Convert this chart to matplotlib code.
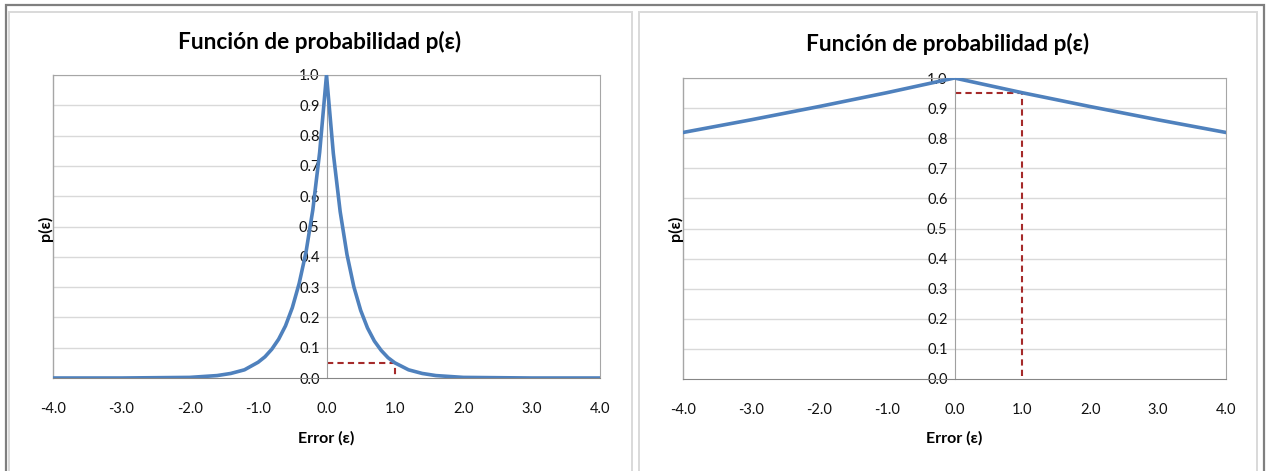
import matplotlib.pyplot as plt
from matplotlib.patches import Rectangle

plt.rcParams['font.family'] = ['Lato', 'DejaVu Sans']

# left chart: sharp peak
x_left = [-4.0, -3.0, -2.0, -1.6, -1.4, -1.2, -1.0, -0.9, -0.8, -0.7, -0.6, -0.5, -0.4, -0.3, -0.2, -0.1,
          0.0, 0.1, 0.2, 0.3, 0.4, 0.5, 0.6, 0.7, 0.8, 0.9, 1.0, 1.2, 1.4, 1.6, 2.0, 3.0, 4.0]
y_left = [0.000, 0.000, 0.002, 0.008, 0.015, 0.027, 0.052, 0.070, 0.095, 0.128, 0.172, 0.232, 0.312, 0.415, 0.555, 0.745,
          1.000, 0.741, 0.549, 0.407, 0.301, 0.223, 0.165, 0.122, 0.091, 0.067, 0.050, 0.027, 0.015, 0.008, 0.002, 0.000, 0.000]
marker_left = 0.05

# right chart: flat peak
x_right = [-4.0, -3.0, -2.0, -1.0, 0.0, 1.0, 2.0, 3.0, 4.0]
y_right = [0.819, 0.861, 0.905, 0.951, 1.000, 0.951, 0.905, 0.861, 0.819]
marker_right = 0.95

title = 'Función de probabilidad p(ε)'
xticks = [-4.0, -3.0, -2.0, -1.0, 0.0, 1.0, 2.0, 3.0, 4.0]
yticks = [0.0, 0.1, 0.2, 0.3, 0.4, 0.5, 0.6, 0.7, 0.8, 0.9, 1.0]

W, H = 1266, 471
fig = plt.figure(figsize=(W / 100, H / 100), dpi=100)

# outer and panel frames
fig.patches.append(Rectangle((6 / W, -0.05), 1258 / W, (H - 5) / H + 0.05, transform=fig.transFigure,
                             fill=False, edgecolor='#7f7f7f', linewidth=1.6))
for px0, px1 in [(9, 632), (639, 1257)]:
    fig.patches.append(Rectangle((px0 / W, -0.05), (px1 - px0) / W, (H - 12) / H + 0.05, transform=fig.transFigure,
                                 fill=False, edgecolor='#d9d9d9', linewidth=1.4))


def draw(box, xs, ys, mark, title_xy, ylab_x):
    l, t, r, b = box
    ax = fig.add_axes([l / W, (H - b) / H, (r - l) / W, (b - t) / H])
    ax.set_xlim(-4, 4)
    ax.set_ylim(0, 1)
    for v in yticks[1:]:
        ax.axhline(v, color='#d9d9d9', linewidth=1.0, zorder=0)
    ax.plot(xs, ys, color='#4f81bd', linewidth=2.6, zorder=3, solid_joinstyle='round')
    ax.plot([0, 1, 1], [mark, mark, 0], color='#a52a2a', linestyle=(0, (3, 2)), linewidth=1.5, zorder=2)
    for s in ['top', 'right', 'bottom']:
        ax.spines[s].set_color('#a6a6a6')
    ax.spines['left'].set_position(('data', 0))
    ax.spines['left'].set_color('#a0a0a0')
    ax.axvline(-4, color='#a6a6a6', linewidth=1.0, clip_on=False)
    ax.spines['bottom'].set_color('#868686')
    ax.set_xticks(xticks)
    ax.set_xticklabels(['%.1f' % v for v in xticks])
    ax.set_yticks(yticks)
    ax.set_yticklabels(['%.1f' % v for v in yticks])
    ax.tick_params(axis='x', length=0, pad=17, labelsize=10.5, labelcolor='#111111')
    ax.tick_params(axis='y', length=0, pad=5, labelsize=10.5, labelcolor='#111111')
    fig.text(title_xy[0] / W, 1 - title_xy[1] / H, title, ha='center', va='center',
             fontsize=16.3, fontweight='bold')
    fig.text(((l + r) / 2) / W, 1 - 438 / H, 'Error (ε)', ha='center', va='center',
             fontsize=11.5, fontweight='bold')
    fig.text(ylab_x / W, 1 - 228 / H, 'p(ε)', ha='center', va='center', rotation=90,
             fontsize=11.5, fontweight='bold')
    return ax


draw((53, 75, 600, 378), x_left, y_left, marker_left, (320, 42), 45)
draw((683, 78, 1226, 379), x_right, y_right, marker_right, (948, 44), 675)

fig.savefig('out.png', dpi=100)
